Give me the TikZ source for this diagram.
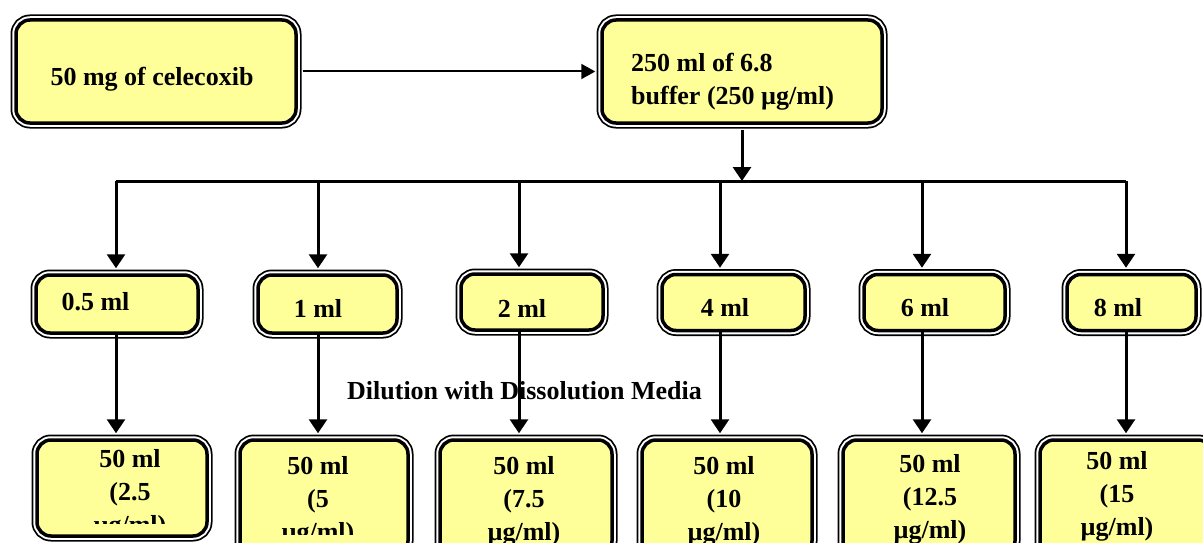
\documentclass[tikz,border=0pt]{standalone}
\usepackage{fontspec}
\setmainfont{Liberation Serif}
\usetikzlibrary{arrows.meta}
\definecolor{boxyellow}{RGB}{255,255,153}

\tikzstyle{flowbox}=[shape=rectangle,rounded corners=14pt,fill=boxyellow,draw=black,line width=3.5pt,inner sep=0pt,
  preaction={draw=black,line width=11pt},preaction={draw=white,line width=7.5pt}]
\tikzstyle{boxtext}=[inner sep=0pt,font=\fontsize{26}{33}\selectfont\bfseries]
\tikzstyle{link}=[line width=3pt,-{Triangle[length=14pt,width=18pt]}]

\begin{document}
\begin{tikzpicture}[x=1pt,y=-1pt]
    \useasboundingbox (0,0) rectangle (1203,543);
    \clip (0,0) rectangle (1203,543);
    % top row
    \node[flowbox,minimum width=280pt,minimum height=103pt] (drug) at (156,71.5) {};
    \node[boxtext,anchor=base] (drugtxt) at (152,86) {50 mg of celecoxib};
    \node[flowbox,minimum width=280pt,minimum height=103pt] (stock) at (742,71.5) {};
    \node[boxtext,anchor=north west,align=left] (stocktxt) at (631,53) {250 ml of 6.8\\buffer (250 µg/ml)};
    % volumes taken
    \node[flowbox,minimum width=162pt,minimum height=58pt] (m1) at (117,304) {};
    \node[flowbox,minimum width=139pt,minimum height=58pt] (m2) at (327.5,304) {};
    \node[flowbox,minimum width=142pt,minimum height=56pt] (m3) at (532,302) {};
    \node[flowbox,minimum width=143pt,minimum height=56pt] (m4) at (733.5,302.5) {};
    \node[flowbox,minimum width=141pt,minimum height=56pt] (m5) at (934.5,302.5) {};
    \node[flowbox,minimum width=129pt,minimum height=56pt] (m6) at (1131.5,302.5) {};
    \node[boxtext,anchor=base] (mt1) at (95.5,310) {0.5 ml};
    \node[boxtext,anchor=base] (mt2) at (318,317) {1 ml};
    \node[boxtext,anchor=base] (mt3) at (522,317) {2 ml};
    \node[boxtext,anchor=base] (mt4) at (725,316) {4 ml};
    \node[boxtext,anchor=base] (mt5) at (925,316) {6 ml};
    \node[boxtext,anchor=base] (mt6) at (1118,316) {8 ml};
    \node[boxtext,anchor=base] (dilute) at (524.5,399) {Dilution with Dissolution Media};
    % standards
    \node[flowbox,minimum width=170pt,minimum height=96pt] (b1) at (122,488) {};
    \node[flowbox,minimum width=168pt,minimum height=115pt] (b2) at (324,497.5) {};
    \node[flowbox,minimum width=172pt,minimum height=115pt] (b3) at (526,497.5) {};
    \node[flowbox,minimum width=170pt,minimum height=115pt] (b4) at (727,497.5) {};
    \node[flowbox,minimum width=172pt,minimum height=115pt] (b5) at (929,497.5) {};
    \node[flowbox,minimum width=172pt,minimum height=115pt] (b6) at (1126,497.5) {};
    \begin{scope}
        \clip (30,435) rectangle (215,523);
        \node[boxtext,anchor=north,align=center] (bt1) at (130,449) {50 ml\\(2.5\\µg/ml)};
    \end{scope}
    \begin{scope}
        \clip (230,435) rectangle (415,534);
        \node[boxtext,anchor=north,align=center] (bt2) at (318,456) {50 ml\\(5\\µg/ml)};
    \end{scope}
    \node[boxtext,anchor=north,align=center] (bt3) at (524,456) {50 ml\\(7.5\\µg/ml)};
    \node[boxtext,anchor=north,align=center] (bt4) at (724,456) {50 ml\\(10\\µg/ml)};
    \node[boxtext,anchor=north,align=center] (bt5) at (930,454) {50 ml\\(12.5\\µg/ml)};
    \node[boxtext,anchor=north,align=center] (bt6) at (1117,451) {50 ml\\(15\\µg/ml)};
    % connectors
    \draw[line width=2pt,-{Triangle[length=14pt,width=15pt]},shorten <=5pt,shorten >=5pt] (drug.east) -- (stock.west);
    \coordinate (hub) at (742,181);
    \draw[link,shorten <=5pt] (stock.south) -- (hub);
    \foreach \i/\xx in {1/116,2/318,3/519,4/720,5/922,6/1126}
        \coordinate (d\i) at (\xx,181);
    \draw[line width=3pt] (d1) -- (d6);
    \foreach \i in {1,...,6} {
        \draw[link,shorten >=5pt] (d\i) -- (d\i |- m\i.north);
        \draw[link,shorten >=5pt] (d\i |- m\i.south) -- (d\i |- b\i.north);
    }
\end{tikzpicture}
\end{document}
